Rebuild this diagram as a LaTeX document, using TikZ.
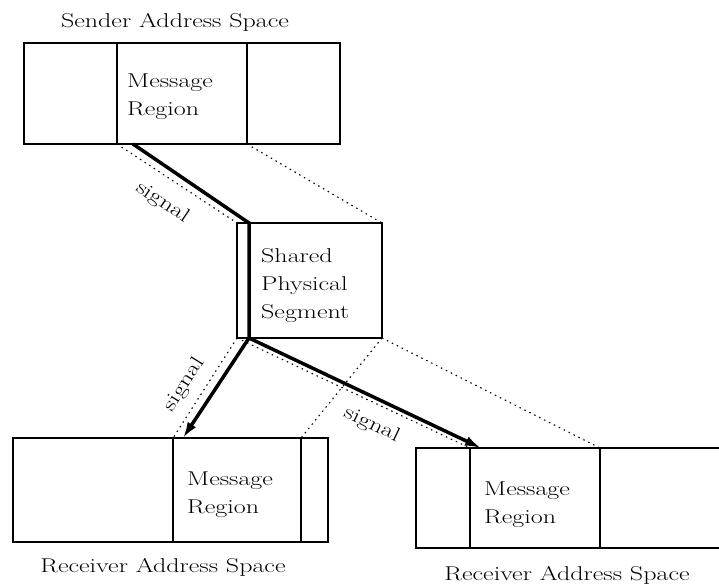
\documentclass[tikz,border=0pt]{standalone}
\usetikzlibrary{arrows.meta,calc}
\usepackage{graphicx}
\newcommand{\dfont}{\fontsize{20}{28}\selectfont}
\newcommand{\wtxt}[1]{\scalebox{1.3}[1]{\begin{tabular}{@{}l@{}}#1\end{tabular}}}
\begin{document}
\begin{tikzpicture}[x=1pt,y=-1pt,
  cell/.style={draw, line width=1.5pt, inner sep=0pt, outer sep=0pt, anchor=north west},
  lbl/.style={font=\dfont, inner sep=0pt},
  txt/.style={font=\dfont, inner sep=0pt, anchor=north west},
  sig/.style={line width=3.5pt},
  map/.style={line width=1.1pt, dash pattern=on 1.5pt off 4pt},
  sigtxt/.style={font=\dfont, inner sep=0pt}]
\useasboundingbox (0,0) rectangle (719,584);
% sender
\node[cell, minimum width=93pt, minimum height=101pt] (sL) at (24,43) {};
\node[cell, minimum width=130pt, minimum height=101pt] (sM) at (117,43) {};
\node[cell, minimum width=93pt, minimum height=101pt] (sR) at (247,43) {};
\node[lbl] (sT) at (175,22) {\wtxt{Sender Address Space}};
\node[txt] (sX) at (127,68) {\wtxt{Message\\Region}};
% shared
\node[cell, minimum width=12pt, minimum height=115pt] (shA) at (237,223) {};
\node[cell, minimum width=133pt, minimum height=115pt] (shB) at (249,223) {};
\node[txt] (shX) at (261,243) {\wtxt{Shared\\Physical\\Segment}};
% receiver 1
\node[cell, minimum width=160pt, minimum height=104pt] (r1L) at (13,438) {};
\node[cell, minimum width=128pt, minimum height=104pt] (r1M) at (173,438) {};
\node[cell, minimum width=27pt, minimum height=104pt] (r1R) at (301,438) {};
\node[lbl] (r1T) at (163,567) {\wtxt{Receiver Address Space}};
\node[txt] (r1X) at (187,466) {\wtxt{Message\\Region}};
% receiver 2
\node[cell, minimum width=54pt, minimum height=100pt] (r2L) at (416,448) {};
\node[cell, minimum width=130pt, minimum height=100pt] (r2M) at (470,448) {};
\node[cell, minimum width=125pt, minimum height=100pt] (r2R) at (600,448) {};
\node[lbl] (r2T) at (567,575) {\wtxt{Receiver Address Space}};
\node[txt] (r2X) at (484,476) {\wtxt{Message\\Region}};
% mapping lines
\draw[map] (sM.south west) -- (shA.north west);
\draw[map] (sR.south west) -- (shB.north east);
\draw[map] (shA.south west) -- (r1M.north west);
\draw[map] (shB.south east) -- (r1R.north west);
\draw[map] (shA.south west) -- (r2M.north west);
\draw[map] (shB.south east) -- (r2R.north west);
% signal paths
\coordinate (s0) at ($(sM.south west)+(16,0)$);
\coordinate (t1) at ($(r1M.north west)+(10,0)$);
\coordinate (t2) at ($(r2M.north west)+(11,0)$);
\draw[sig, line join=miter] (s0) -- (shB.north west) -- (shB.south west);
\draw[sig, -{Latex[length=16pt,width=10pt]}] (shB.south west) -- (t1);
\draw[sig, -{Latex[length=16pt,width=10pt]}] (shB.south west) -- (t2);
\node[sigtxt, rotate=-34] (g1) at (163,202) {\wtxt{signal}};
\node[sigtxt, rotate=58] (g2) at (184,384) {\wtxt{signal}};
\node[sigtxt, rotate=-25.5] (g3) at (372,424) {\wtxt{signal}};
\end{tikzpicture}
\end{document}
